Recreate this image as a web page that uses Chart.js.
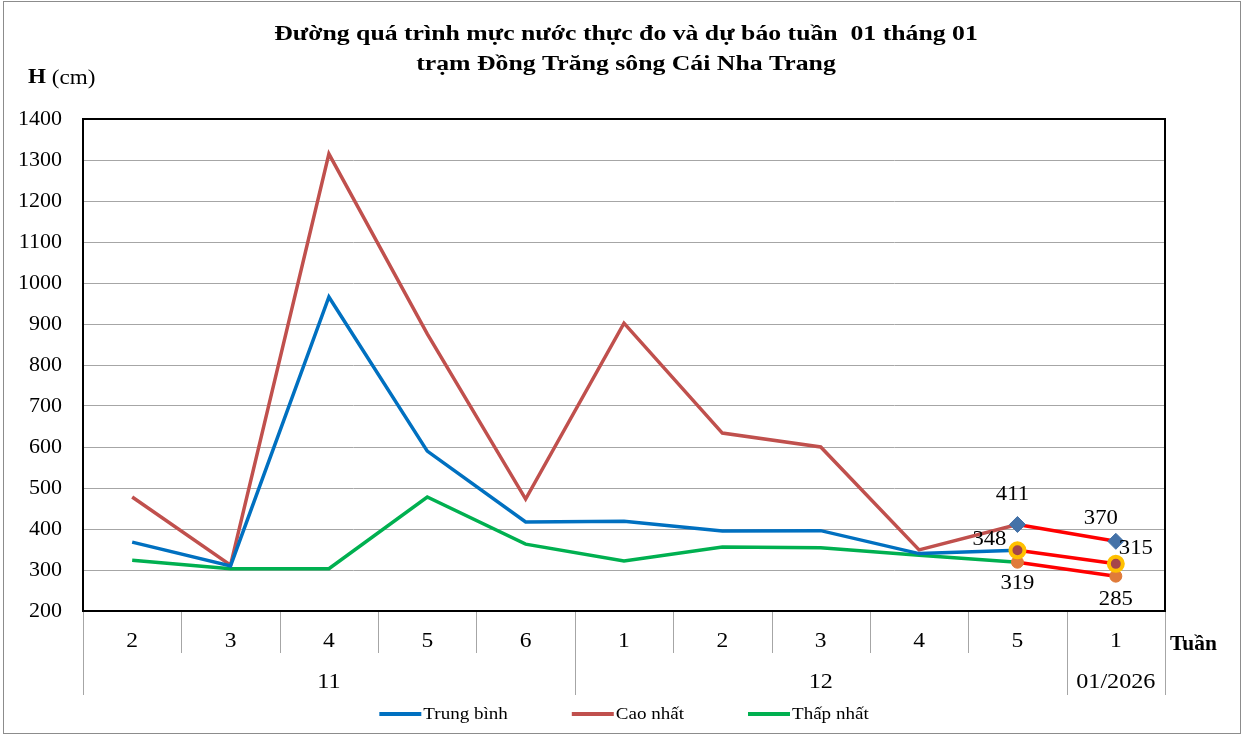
<!DOCTYPE html>
<html>
<head>
<meta charset="utf-8">
<script src="https://cdn.jsdelivr.net/npm/chart.js@4.4.1/dist/chart.umd.min.js"></script>
<style>
  html, body { margin: 0; padding: 0; background: #fff; }
  #wrap { position: relative; width: 1247px; height: 736px; }
</style>
</head>
<body>
<div id="wrap"><canvas id="chart" width="1247" height="736"></canvas></div>
<script>
const weeks = ['2', '3', '4', '5', '6', '1', '2', '3', '4', '5', '1'];
const months = ['11', '12', '01/2026'];
const monthSpans = [5, 5, 1];

const meanLevel = [368, 310, 966, 590, 417, 419, 395, 396, 340, 348, null];
const maxLevel = [478, 312, 1315, 876, 473, 902, 634, 600, 349, 411, null];
const minLevel = [324, 303, 303, 478, 363, 322, 356, 354, 336, 319, null];

const maxForecast = [null, null, null, null, null, null, null, null, null, 411, 370];
const meanForecast = [null, null, null, null, null, null, null, null, null, 348, 315];
const minForecast = [null, null, null, null, null, null, null, null, null, 319, 285];

const yTicks = [200, 300, 400, 500, 600, 700, 800, 900, 1000, 1100, 1200, 1300, 1400];

const FONT = "'Liberation Serif', 'Times New Roman', serif";

// the reference text is a bit wider than Liberation Serif, so stretch it
function wideText(ctx, text, x, y, sx) {
  ctx.save();
  ctx.translate(x, y);
  ctx.scale(sx, 1);
  ctx.fillText(text, 0, 0);
  ctx.restore();
}

const decor = {
  id: 'decor',
  beforeDraw(chart) {
    const ctx = chart.ctx;
    ctx.save();
    ctx.fillStyle = '#fff';
    ctx.fillRect(0, 0, chart.width, chart.height);
    ctx.strokeStyle = '#8c8c8c';
    ctx.lineWidth = 1;
    ctx.strokeRect(3.5, 1.5, 1237, 732);
    ctx.restore();
  },
  afterDatasetsDraw(chart) {
    const ctx = chart.ctx;
    const area = chart.chartArea;
    const x = chart.scales.x;
    ctx.save();

    // plot frame
    ctx.strokeStyle = '#000';
    ctx.lineWidth = 2;
    ctx.strokeRect(area.left, area.top, area.right - area.left, area.bottom - area.top);

    // title
    ctx.fillStyle = '#000';
    ctx.textAlign = 'center';
    ctx.textBaseline = 'middle';
    ctx.font = 'bold 22px ' + FONT;
    wideText(ctx, 'Đường quá trình mực nước thực đo và dự báo tuần  01 tháng 01', 626, 34, 1.17);
    wideText(ctx, 'trạm Đồng Trăng sông Cái Nha Trang', 626, 64, 1.17);

    // H (cm)
    ctx.textAlign = 'left';
    ctx.font = 'bold 21px ' + FONT;
    wideText(ctx, 'H', 28, 78, 1.1);
    const hw = ctx.measureText('H ').width * 1.1;
    ctx.font = '21px ' + FONT;
    wideText(ctx, '(cm)', 28 + hw, 78, 1.1);

    // x axis separators and labels
    const n = weeks.length;
    const bounds = [area.left];
    for (let i = 1; i < n; i++) bounds.push((x.getPixelForTick(i - 1) + x.getPixelForTick(i)) / 2);
    bounds.push(area.right);

    const monthEdges = [0];
    monthSpans.forEach((s) => monthEdges.push(monthEdges[monthEdges.length - 1] + s));

    ctx.strokeStyle = '#a6a6a6';
    ctx.lineWidth = 1;
    bounds.forEach((bx, i) => {
      const long = monthEdges.includes(i);
      ctx.beginPath();
      ctx.moveTo(Math.round(bx) + 0.5, area.bottom + 1);
      ctx.lineTo(Math.round(bx) + 0.5, area.bottom + (long ? 84 : 42));
      ctx.stroke();
    });

    ctx.fillStyle = '#000';
    ctx.textAlign = 'center';
    ctx.font = '21px ' + FONT;
    weeks.forEach((w, i) => wideText(ctx, w, x.getPixelForTick(i), area.bottom + 30, 1.12));
    months.forEach((m, k) => {
      const cx = (bounds[monthEdges[k]] + bounds[monthEdges[k + 1]]) / 2;
      wideText(ctx, m, cx, area.bottom + 71, 1.15);
    });
    ctx.font = 'bold 20px ' + FONT;
    ctx.textAlign = 'left';
    wideText(ctx, 'Tuần', area.right + 5, area.bottom + 34, 1.07);

    // legend
    const items = chart.data.datasets.filter((d) => d.inLegend);
    const sx = 1.12;
    ctx.font = '17px ' + FONT;
    const gap = 64;
    const widths = items.map((d) => 44 + ctx.measureText(d.label).width * sx);
    const total = widths.reduce((a, b) => a + b, 0) + gap * (items.length - 1);
    let lx = (area.left + area.right) / 2 - total / 2;
    const ly = 714;
    items.forEach((d, i) => {
      ctx.strokeStyle = d.borderColor;
      ctx.lineWidth = 4;
      ctx.beginPath();
      ctx.moveTo(lx, ly);
      ctx.lineTo(lx + 42, ly);
      ctx.stroke();
      ctx.fillStyle = '#000';
      wideText(ctx, d.label, lx + 44, ly + 1, sx);
      lx += widths[i] + gap;
    });

    // value labels of the forecast points
    const offsets = [
      [[-5, -30], [-15, -23]],
      [[-28, -11], [20, -15]],
      [[0, 21], [0, 23]]
    ];
    ctx.font = '21px ' + FONT;
    ctx.textAlign = 'center';
    [3, 4, 5].forEach((di, k) => {
      const meta = chart.getDatasetMeta(di);
      const vals = chart.data.datasets[di].data;
      [9, 10].forEach((idx, j) => {
        const pt = meta.data[idx];
        wideText(ctx, String(vals[idx]), pt.x + offsets[k][j][0], pt.y + offsets[k][j][1], 1.08);
      });
    });

    ctx.restore();
  }
};

const observed = (label, data, color) => ({
  label, data, borderColor: color, backgroundColor: color,
  borderWidth: 3.5, pointRadius: 0, tension: 0, order: 2, inLegend: true
});

const forecast = (label, data, pointStyle, fill, stroke, radius, pbw) => ({
  label, data, borderColor: '#ff0000', backgroundColor: fill,
  borderWidth: 3.5, pointStyle, pointRadius: radius,
  pointBackgroundColor: fill, pointBorderColor: stroke, pointBorderWidth: pbw,
  tension: 0, order: 1, inLegend: false
});

new Chart(document.getElementById('chart'), {
  type: 'line',
  data: {
    labels: weeks,
    datasets: [
      observed('Trung bình', meanLevel, '#0070c0'),
      observed('Cao nhất', maxLevel, '#c0504d'),
      observed('Thấp nhất', minLevel, '#00b050'),
      forecast('Dự báo cao nhất', maxForecast, 'rectRot', '#4472a8', '#4472a8', 8, 1),
      forecast('Dự báo trung bình', meanForecast, 'circle', '#a5464a', '#ffc000', 7, 4),
      forecast('Dự báo thấp nhất', minForecast, 'circle', '#e07b39', '#e07b39', 6, 1)
    ]
  },
  options: {
    responsive: false,
    animation: false,
    layout: { padding: { top: 119, right: 82, bottom: 40, left: 0 } },
    plugins: {
      legend: { display: false },
      title: { display: false },
      tooltip: { enabled: false }
    },
    scales: {
      x: {
        type: 'category',
        offset: true,
        grid: { display: false },
        border: { display: false },
        ticks: { display: false },
        afterFit: (scale) => { scale.height = 85; }
      },
      y: {
        min: 200,
        max: 1400,
        afterBuildTicks: (scale) => { scale.ticks = yTicks.map((v) => ({ value: v })); },
        grid: { color: '#a6a6a6', lineWidth: 1, drawTicks: false },
        border: { display: false },
        ticks: {
          color: '#000',
          font: { family: FONT, size: 22 },
          padding: 21,
          callback: (v) => String(v)
        },
        afterFit: (scale) => { scale.width = 83; }
      }
    }
  },
  plugins: [decor]
});
</script>
</body>
</html>
